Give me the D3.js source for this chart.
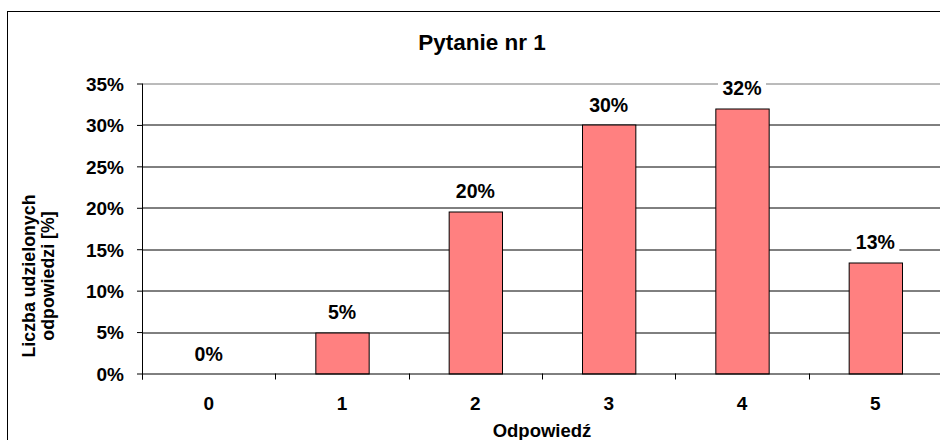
<!DOCTYPE html>
<meta charset="utf-8">
<script src="https://d3js.org/d3.v7.min.js"></script>
<style>
  body { margin: 0; background: #fff; }
  text { font-family: "Liberation Sans", Arial, sans-serif; font-weight: bold; }
</style>
<div id="chart"></div>
<script>
// data
var categories = ["0", "1", "2", "3", "4", "5"];
var values = [0, 5, 19.6, 30, 32, 13.4];
var valueLabels = ["0%", "5%", "20%", "30%", "32%", "13%"];
var yTicks = [0, 5, 10, 15, 20, 25, 30, 35];

var W = 940, H = 440;
var margin = {top: 83.5, left: 142, right: -2, bottom: 66.5};
var width = W - margin.left - margin.right,
    height = H - margin.top - margin.bottom;

var svg = d3.select("#chart").append("svg")
  .attr("width", W).attr("height", H);

// outer frame
svg.append("rect")
  .attr("x", 7.5).attr("y", 11.5)
  .attr("width", 940).attr("height", 440)
  .attr("fill", "none").attr("stroke", "#000");

svg.append("text")
  .attr("x", 482).attr("y", 50)
  .attr("text-anchor", "middle")
  .style("font-size", "22.5px")
  .text("Pytanie nr 1");

var g = svg.append("g")
  .attr("transform", "translate(" + margin.left + "," + margin.top + ")");

var x = d3.scaleBand().domain(categories).range([0, width]).paddingInner(0.6).paddingOuter(0.3);
var xb = d3.scaleBand().domain(categories).range([0, width]);
var y = d3.scaleLinear().domain([0, 35]).range([height, 0]);

// gridlines
g.selectAll(".grid").data(yTicks.slice(1)).enter().append("line")
  .attr("x1", 0).attr("x2", width)
  .attr("y1", function(d) { return Math.round(y(d)) + 0.5; })
  .attr("y2", function(d) { return Math.round(y(d)) + 0.5; })
  .attr("stroke", function(d) { return d === 35 ? "#777" : "#000"; })
  .attr("stroke-width", 1);

// y axis
var yAxis = g.append("g")
  .call(d3.axisLeft(y).tickValues(yTicks).tickSize(5).tickPadding(13)
    .tickFormat(function(d) { return d + "%"; }));
yAxis.selectAll("text").style("font-size", "19px").attr("fill", "#000").attr("dy", "0.36em");
yAxis.select(".domain").remove();
g.append("line").attr("x1", 0.5).attr("x2", 0.5).attr("y1", 0).attr("y2", height + 6).attr("stroke", "#000");

// bars
g.selectAll(".bar").data(values).enter().append("rect")
  .attr("x", function(d, i) { return x(categories[i]) + 0.5; })
  .attr("y", function(d) { return Math.round(y(d)) + 0.5; })
  .attr("width", x.bandwidth())
  .attr("height", function(d) { return Math.round(height - y(d)); })
  .attr("fill", "#FF8080")
  .attr("stroke", "#000")
  .attr("stroke-width", function(d) { return d > 0 ? 1 : 0; });

// x axis
g.append("line").attr("x1", 0).attr("x2", width)
  .attr("y1", height + 0.5).attr("y2", height + 0.5).attr("stroke", "#000");
g.selectAll(".xtick").data(categories).enter().append("line")
  .attr("x1", function(d) { return Math.round(xb(d)) + 0.5; })
  .attr("x2", function(d) { return Math.round(xb(d)) + 0.5; })
  .attr("y1", height).attr("y2", height + 6)
  .attr("stroke", "#000");
g.selectAll(".xlab").data(categories).enter().append("text")
  .attr("x", function(d) { return xb(d) + xb.bandwidth() / 2; })
  .attr("y", 410 - margin.top)
  .attr("text-anchor", "middle")
  .style("font-size", "19px")
  .text(function(d) { return d; });

// value labels with white background
var labels = g.selectAll(".vlab").data(values).enter().append("g")
  .attr("transform", function(d, i) {
    return "translate(" + (xb(categories[i]) + xb.bandwidth() / 2) + "," + (y(d) - 13) + ")";
  });
labels.append("rect")
  .attr("x", -24).attr("y", -17).attr("width", 48).attr("height", 22)
  .attr("fill", "#fff");
labels.append("text")
  .attr("text-anchor", "middle")
  .style("font-size", "19.5px")
  .text(function(d, i) { return valueLabels[i]; });

// axis titles
svg.append("text")
  .attr("x", margin.left + width / 2).attr("y", 437)
  .attr("text-anchor", "middle")
  .style("font-size", "18.5px")
  .text("Odpowiedź");

var yt = svg.append("text")
  .attr("transform", "translate(0,276) rotate(-90)")
  .attr("text-anchor", "middle")
  .style("font-size", "17.8px");
yt.append("tspan").attr("x", 0).attr("y", 35).text("Liczba udzielonych");
yt.append("tspan").attr("x", 0).attr("y", 54).text("odpowiedzi [%]");
</script>
